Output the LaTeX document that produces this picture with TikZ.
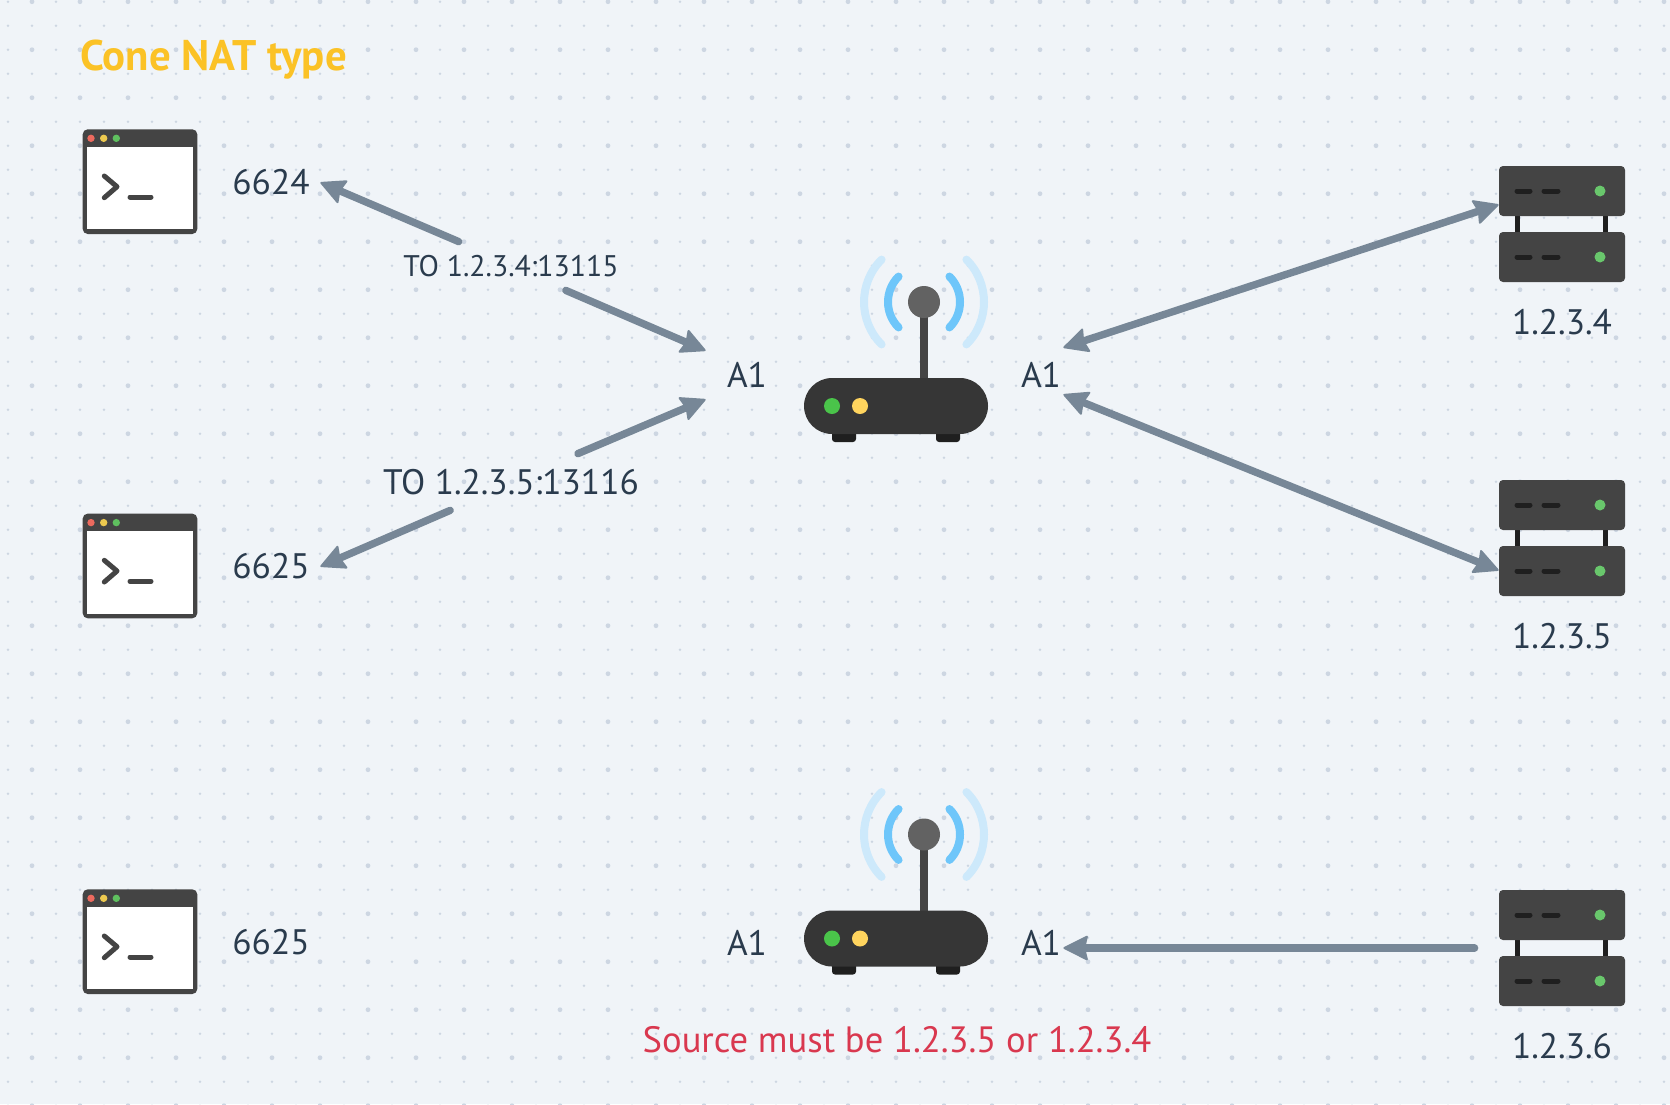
\documentclass[tikz,border=0pt]{standalone}
\usepackage{fontspec}
\setmainfont{PT Sans}
\usetikzlibrary{arrows.meta}
\definecolor{paper}{HTML}{F0F4F8}
\definecolor{griddot}{HTML}{CDD6E2}
\definecolor{ink}{HTML}{2A3B4D}
\definecolor{flowgray}{HTML}{778797}
\definecolor{icondark}{HTML}{444444}
\definecolor{routerdark}{HTML}{363636}
\definecolor{footdark}{HTML}{1F1F1F}
\tikzset{
	flowtip/.tip={Stealth[length=13pt,width=13pt,inset=1.5pt,round,line width=1pt]},
	flow/.style={draw=flowgray, line width=3.7pt, line cap=round, -flowtip},
	flowboth/.style={flow, flowtip-flowtip},
	lbl/.style={text=ink, inner sep=0pt, font=\fontsize{17.7}{20}\selectfont},
	msg/.style={text=ink, inner sep=0pt, minimum width=120pt},
	holder/.style={inner sep=0pt},
	pics/termicon/.style={code={
		\fill[icondark, rounded corners=2.5pt] (-57.3,-52.4) rectangle (57.3,52.3);
		\fill[white] (-52.7,-35) rectangle (52.7,47.6);
		\fill[color={rgb,255:red,236;green,106;blue,94}] (-49,-43.4) circle (3.7);
		\fill[color={rgb,255:red,237;green,201;blue,79}] (-36.3,-43.4) circle (3.7);
		\fill[color={rgb,255:red,95;green,192;blue,95}] (-23.7,-43.4) circle (3.7);
		\draw[icondark, line width=2.5pt, line cap=round, line join=round] (-35.7,-5.7) -- (-23,5) -- (-35.7,16);
		\draw[icondark, line width=2.5pt, line cap=round] (-10,15.3) -- (11,15.3);
	}},
	pics/routericon/.style={code={
		\fill[footdark, rounded corners=1.5pt] (-64,20) rectangle (-40,36);
		\fill[footdark, rounded corners=1.5pt] (40,20) rectangle (64,36);
		\fill[icondark] (24,-90) rectangle (32,-20);
		\fill[routerdark, rounded corners=14pt] (-92,-28) rectangle (92,28);
		\fill[color={rgb,255:red,74;green,196;blue,74}] (-64,0) circle (8);
		\fill[color={rgb,255:red,255;green,212;blue,94}] (-36,0) circle (8);
		\fill[color={rgb,255:red,98;green,98;blue,98}] (28,-104) circle (16);
		\foreach \r/\c in {36/6EC6FA,60/CDE9FB} {
			\definecolor{wavecol}{HTML}{\c}
			\draw[wavecol, line width=4pt, line cap=round] (28,-104) ++(135:\r) arc (135:225:\r);
			\draw[wavecol, line width=4pt, line cap=round] (28,-104) ++(45:\r) arc (45:-45:\r);
		}
	}},
	pics/servericon/.style={code={
		\fill[footdark] (-47,-12) rectangle (-42,12);
		\fill[footdark] (41,-12) rectangle (46,12);
		\foreach \y in {-33,33} {
			\fill[icondark, rounded corners=2pt] (-63,\y-25) rectangle (63,\y+25);
			\draw[footdark, line width=2.5pt, line cap=round] (-45,\y) -- (-32,\y);
			\draw[footdark, line width=2.5pt, line cap=round] (-18,\y) -- (-4,\y);
			\fill[color={rgb,255:red,105;green,199;blue,108}] (38,\y) circle (5.5);
		}
	}},
}
\begin{document}
\begin{tikzpicture}[x=0.5pt,y=-0.5pt]
	\useasboundingbox (0,0) rectangle (1670,1104);
	\fill[paper] (0,0) rectangle (1670,1104);
	% dotted paper
	\foreach \i in {0,...,69} \foreach \j in {0,...,46} {
		\pgfmathsetmacro{\gx}{8+24*\i}
		\pgfmathsetmacro{\gy}{1.7+24*\j}
		\pgfmathsetmacro{\gr}{(mod(\i,2)==1 && mod(\j,2)==0) ? 2.4 : 1.4}
		\fill[griddot] (\gx,\gy) circle (\gr);
	}
	\node[anchor=west, inner sep=0pt, text={rgb,255:red,251;green,194;blue,38}, font=\fontsize{21.4}{24}\bfseries\selectfont] (title) at (80,60) {Cone NAT type};
	% clients
	\pic at (140,181.7) {termicon};
	\pic at (140,566) {termicon};
	\pic at (140,941.7) {termicon};
	\node[lbl, minimum width=49pt] (port1) at (271,182.5) {6624};
	\node[lbl, minimum width=49pt] (port2) at (271,566.5) {6625};
	\node[lbl, minimum width=49pt] (port3) at (271,942.5) {6625};
	% routers
	\pic at (896,406) {routericon};
	\pic at (896,938.5) {routericon};
	\node[holder, minimum width=92pt, minimum height=28pt] (router1) at (896,406) {};
	\node[holder, minimum width=92pt, minimum height=28pt] (router2) at (896,938.5) {};
	\node[lbl, minimum width=41pt, minimum height=24pt] (inner1) at (747,375) {A1};
	\node[lbl, minimum width=22pt, minimum height=27pt] (outer1) at (1041,375) {A1};
	\node[lbl] (inner2) at (747,943) {A1};
	\node[lbl, minimum width=22pt] (outer2) at (1041,943) {A1};
	% servers
	\pic at (1562,224) {servericon};
	\pic at (1562,538) {servericon};
	\pic at (1562,948) {servericon};
	\node[holder, minimum width=63pt, minimum height=58pt] (srv1) at (1562,224) {};
	\node[holder, minimum width=63pt, minimum height=58pt] (srv2) at (1562,538) {};
	\node[holder, minimum width=63pt, minimum height=58pt] (srv3) at (1562,948) {};
	\node[lbl] (addr1) at (1562,322) {1.2.3.4};
	\node[lbl] (addr2) at (1562,636) {1.2.3.5};
	\node[lbl] (addr3) at (1562,1046) {1.2.3.6};
	% messages
	\node[msg, minimum height=24pt, font=\fontsize{14.9}{18}\selectfont] (msg1) at (511,266) {TO 1.2.3.4:13115};
	\node[msg, minimum height=28pt, font=\fontsize{17.7}{20}\selectfont] (msg2) at (511,482) {TO 1.2.3.5:13116};
	\node[inner sep=0pt, text={rgb,255:red,217;green,56;blue,79}, font=\fontsize{18.3}{20}\selectfont] (note) at (897,1040) {Source must be 1.2.3.5 or 1.2.3.4};
	% arrows
	\draw[flow] (msg1.155) -- (port1.east);
	\draw[flow] (msg1.-24) -- (inner1.north west);
	\draw[flow] (msg2.23) -- (inner1.south west);
	\draw[flow] (msg2.205) -- (port2.east);
	\draw[flowboth] (outer1.north east) -- (srv1.163);
	\draw[flowboth] (outer1.-41) -- (srv2.207);
	\draw[flow, shorten <=12pt] (srv3.west) -- (outer2.east |- srv3.west);
\end{tikzpicture}
\end{document}
